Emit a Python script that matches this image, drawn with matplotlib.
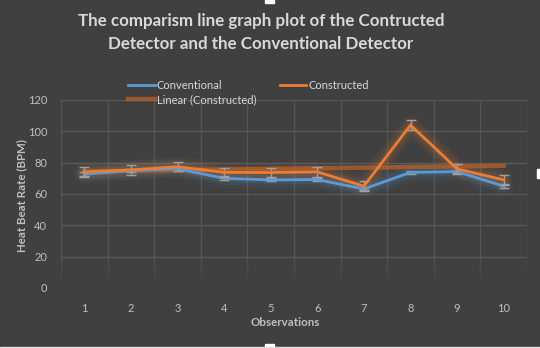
import numpy as np
import matplotlib.pyplot as plt
from matplotlib.collections import LineCollection
from matplotlib.patches import Rectangle

observations = [1, 2, 3, 4, 5, 6, 7, 8, 9, 10]
conventional = [72.6, 75.0, 76.1, 70.0, 69.0, 69.2, 63.2, 73.8, 74.3, 65.0]
constructed = [74.0, 75.4, 77.4, 73.8, 73.7, 74.1, 65.0, 104.0, 76.0, 69.0]
conventional_err = [1.3, 1.2, 1.2, 1.2, 1.0, 1.0, 0.8, 1.0, 1.0, 1.2]
constructed_err = [3.0, 3.2, 3.0, 2.8, 3.0, 3.2, 3.4, 3.2, 3.0, 3.3]

bg = "#404040"
grid = "#595959"
text_col = "#d9d9d9"
tick_col = "#bfbfbf"
blue = "#5b9bd5"
orange = "#ed7d31"
trend_col = "#b8612a"

plt.rcParams['font.family'] = ['Lato', 'DejaVu Sans']

fig = plt.figure(figsize=(5.4, 3.48), dpi=100, facecolor=bg)
ax = fig.add_axes([61/540, 1-288/348, 466/540, 188/348], facecolor=bg)
ax.set_xlim(0.5, 10.5)
ax.set_ylim(0, 120)
for s in ax.spines.values():
    s.set_visible(False)

# horizontal gridlines (the one at zero fades out with the verticals)
for yv in range(20, 121, 20):
    ax.axhline(yv, color=grid, lw=1, zorder=0)

# vertical gridlines at category borders, fading towards the bottom
segs, cols = [], []
ys = np.linspace(0, 120, 121)
for xv in np.arange(0.5, 11, 1.0):
    for y0, y1 in zip(ys[:-1], ys[1:]):
        segs.append([(xv, y0), (xv, y1)])
        a = min(1.0, max(0.0, (y0 - 2) / 18))
        cols.append((0x59/255, 0x59/255, 0x59/255, a))
ax.add_collection(LineCollection(segs, colors=cols, lw=1, zorder=0))

x = np.array(observations)

# soft glow under both series
for series, c in [(conventional, blue), (constructed, orange)]:
    for w, a in [(14, 0.05), (10, 0.07), (6, 0.10)]:
        ax.plot(x, series, color=c, lw=w, alpha=a, solid_capstyle='round',
                solid_joinstyle='round', zorder=1)

# linear trendline of the constructed detector
k, b = np.polyfit(x, constructed, 1)
trend_x = np.array([1, 10])
ax.plot(trend_x, k*trend_x + b, color=trend_col, lw=3.2, alpha=0.75, zorder=2)

ax.errorbar(x, conventional, yerr=conventional_err, color=blue, lw=2,
            ecolor="#a0a0a0", elinewidth=1, capsize=3.5, capthick=1, zorder=3)
ax.errorbar(x, constructed, yerr=constructed_err, color=orange, lw=2,
            ecolor="#a0a0a0", elinewidth=1, capsize=3.5, capthick=1, zorder=4)

ax.set_xticks(observations)
ax.set_yticks(range(0, 121, 20))
ax.tick_params(length=0, colors=tick_col, labelsize=8)
ax.tick_params(axis='x', pad=11)
ax.tick_params(axis='y', pad=10)

fig.text(22/540, 1-196/348, "Heat Beat Rate (BPM)", rotation=90, color=tick_col,
         fontsize=8.3, fontweight='bold', ha='center', va='center')
fig.text(285/540, 1-323/348, "Observations", color=tick_col, fontsize=8.3,
         fontweight='bold', ha='center', va='center')

fig.text(261/540, 1-21/348, "The comparism line graph plot of the Contructed",
         color=text_col, fontsize=12.2, fontweight='bold', ha='center', va='center')
fig.text(261/540, 1-44/348, "Detector and the Conventional Detector",
         color=text_col, fontsize=12.2, fontweight='bold', ha='center', va='center')

h_conv = plt.Line2D([], [], color=blue, lw=2)
h_cons = plt.Line2D([], [], color=orange, lw=2)
h_lin = plt.Line2D([], [], color=trend_col, lw=3.2, alpha=0.75)
fig.legend([h_conv, h_lin, h_cons], ["Conventional", "Linear (Constructed)", "Constructed"],
           ncol=2, frameon=False, loc='upper left', bbox_to_anchor=(128/540, 1-80/348),
           borderpad=0, borderaxespad=0, handlelength=2.4, handletextpad=0.2,
           labelspacing=0.3, columnspacing=2.1, labelcolor=text_col, fontsize=8)

# chart frame selection handles
fig.patches.append(Rectangle((265/540, 1-3/348), 9/540, 3/348, color="white",
                             transform=fig.transFigure))
fig.patches.append(Rectangle((265/540, 0), 9/540, 4/348, color="white",
                             transform=fig.transFigure))
fig.patches.append(Rectangle((537/540, 1-178/348), 3/540, 9/348, color="white",
                             transform=fig.transFigure))
fig.patches.append(Rectangle((0, 0), 1, 1.5/348, color="#e0e0e0",
                             transform=fig.transFigure))

fig.savefig("out.png", dpi=100, facecolor=bg)
